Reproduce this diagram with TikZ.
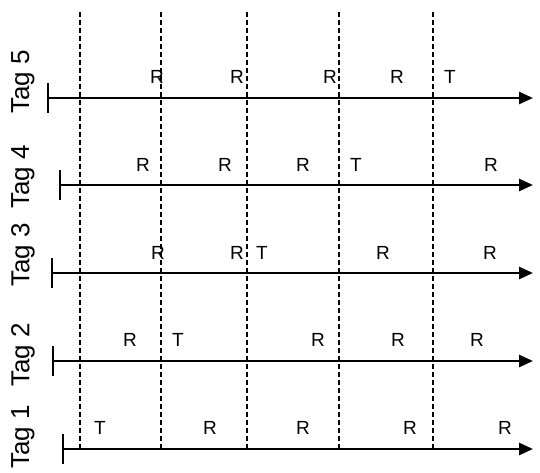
\documentclass[tikz,border=0pt]{standalone}
\usepackage{fontspec}
\setmainfont{Liberation Sans}
\usetikzlibrary{arrows.meta}

\begin{document}
\begin{tikzpicture}[x=1pt, y=-1pt,
    >={Triangle[length=14pt,width=12pt]},
    timeline/.style={->, line width=2.6pt},
    stopbar/.style={line width=2.6pt},
    slot/.style={line width=2.2pt, dash pattern=on 5pt off 3pt},
    ev/.style={font=\fontsize{19}{19}\selectfont, inner sep=0pt},
    tag/.style={font=\fontsize{26}{26}\selectfont, rotate=90, inner sep=0pt}]
    \useasboundingbox (0,0) rectangle (540,473);
    % slot boundaries
    \coordinate (top1) at (80,12);  \coordinate (bot1) at (80,449);
    \coordinate (top2) at (161,12); \coordinate (bot2) at (161,449);
    \coordinate (top3) at (247,12); \coordinate (bot3) at (247,449);
    \coordinate (top4) at (339,12); \coordinate (bot4) at (339,449);
    \coordinate (top5) at (433,12); \coordinate (bot5) at (433,449);
    \draw[slot] (top1) -- (bot1);
    \draw[slot] (top2) -- (bot2);
    \draw[slot] (top3) -- (bot3);
    \draw[slot] (top4) -- (bot4);
    \draw[slot] (top5) -- (bot5);
    % time lines
    \coordinate (start5) at (48,98);  \coordinate (end5) at (533,98);
    \coordinate (start4) at (60,185); \coordinate (end4) at (533,185);
    \coordinate (start3) at (52,273); \coordinate (end3) at (533,273);
    \coordinate (start2) at (53,361); \coordinate (end2) at (533,361);
    \coordinate (start1) at (63,449); \coordinate (end1) at (533,449);
    \draw[timeline] (start5) -- (end5);
    \draw[timeline] (start4) -- (end4);
    \draw[timeline] (start3) -- (end3);
    \draw[timeline] (start2) -- (end2);
    \draw[timeline] (start1) -- (end1);
    \draw[stopbar] ([yshift=-15pt]start5) -- ([yshift=15pt]start5);
    \draw[stopbar] ([yshift=-15pt]start4) -- ([yshift=15pt]start4);
    \draw[stopbar] ([yshift=-15pt]start3) -- ([yshift=15pt]start3);
    \draw[stopbar] ([yshift=-15pt]start2) -- ([yshift=15pt]start2);
    \draw[stopbar] ([yshift=-15pt]start1) -- ([yshift=15pt]start1);
    % tag names
    \node[tag] (tag5) at (23,82) {Tag 5};
    \node[tag] (tag4) at (23,177) {Tag 4};
    \node[tag] (tag3) at (23,255) {Tag 3};
    \node[tag] (tag2) at (23,355) {Tag 2};
    \node[tag] (tag1) at (23,437) {Tag 1};
    % tag 5 events
    \node[ev] (e51) at (157,77) {R};
    \node[ev] (e52) at (237,77) {R};
    \node[ev] (e53) at (330,77) {R};
    \node[ev] (e54) at (397,77) {R};
    \node[ev] (e55) at (450,77) {T};
    % tag 4 events
    \node[ev] (e41) at (143,165) {R};
    \node[ev] (e42) at (225,165) {R};
    \node[ev] (e43) at (303,165) {R};
    \node[ev] (e44) at (356,165) {T};
    \node[ev] (e45) at (491,165) {R};
    % tag 3 events
    \node[ev] (e31) at (158,253) {R};
    \node[ev] (e32) at (237,253) {R};
    \node[ev] (e33) at (262,253) {T};
    \node[ev] (e34) at (383,253) {R};
    \node[ev] (e35) at (490,253) {R};
    % tag 2 events
    \node[ev] (e21) at (130,340) {R};
    \node[ev] (e22) at (178,340) {T};
    \node[ev] (e23) at (318,340) {R};
    \node[ev] (e24) at (398,340) {R};
    \node[ev] (e25) at (477,340) {R};
    % tag 1 events
    \node[ev] (e11) at (100,428) {T};
    \node[ev] (e12) at (210,428) {R};
    \node[ev] (e13) at (303,428) {R};
    \node[ev] (e14) at (410,428) {R};
    \node[ev] (e15) at (505,428) {R};
\end{tikzpicture}
\end{document}
